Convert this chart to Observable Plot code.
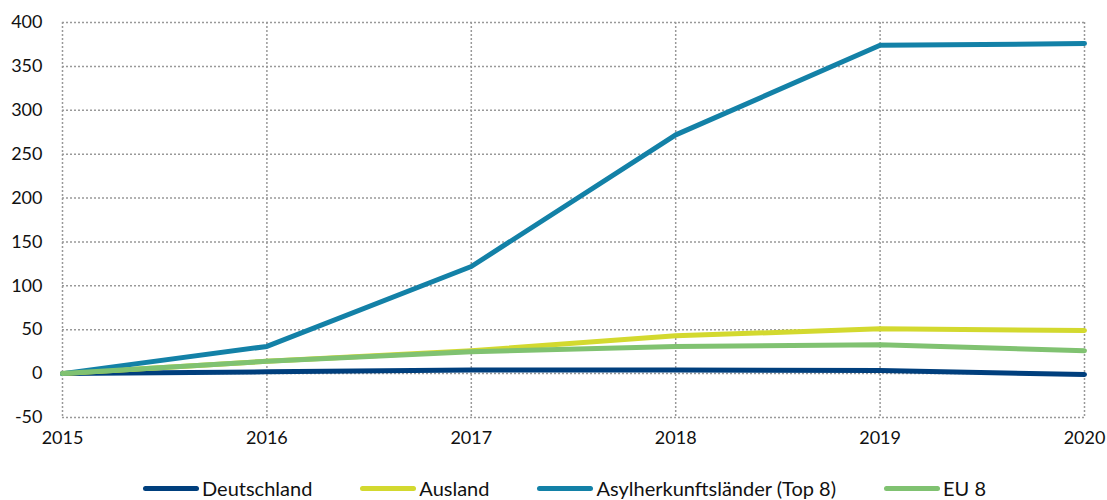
<!DOCTYPE html>
<html>
<head>
<meta charset="utf-8">
<script src="https://cdn.jsdelivr.net/npm/d3@7"></script>
<script src="https://cdn.jsdelivr.net/npm/@observablehq/plot@0.6"></script>
<style>
  html, body { margin: 0; padding: 0; background: #fff; }
  body { width: 1107px; height: 500px; overflow: hidden; font-family: Lato, "Open Sans", sans-serif; }
  #legend { display: flex; align-items: center; margin-left: 143px; margin-top: 17px; font-size: 20px; line-height: 22px; color: #111; white-space: nowrap; }
  .item { display: flex; align-items: center; margin-right: 48px; }
  .sw { width: 56px; height: 5px; border-radius: 3px; margin-right: 3px; }
</style>
</head>
<body>
<div id="chart"></div>
<div id="legend"></div>
<script>
const years = [2015, 2016, 2017, 2018, 2019, 2020];
const seriesNames = ["Deutschland", "Ausland", "Asylherkunftsländer (Top 8)", "EU 8"];
const colors = ["#003f7d", "#d3d92f", "#1381a7", "#80c271"];
const deutschland = [0, 2, 4, 4, 3.5, -1];
const ausland = [0, 14, 26, 43, 51, 49];
const asyl = [0, 31, 122, 272, 374, 376];
const eu8 = [0, 14, 25, 31, 33, 26];
const yTicks = [-50, 0, 50, 100, 150, 200, 250, 300, 350, 400];

const valuesBySeries = [deutschland, ausland, asyl, eu8];
const data = [];
seriesNames.forEach((name, i) => {
  years.forEach((yr, j) => data.push({series: name, year: yr, value: valuesBySeries[i][j]}));
});

const chart = Plot.plot({
  width: 1107,
  height: 460,
  marginLeft: 62,
  marginRight: 23,
  marginTop: 22,
  marginBottom: 43,
  style: {fontFamily: "Lato, 'Open Sans', sans-serif", fontSize: "18px", color: "#111", background: "#fff"},
  x: {domain: [2015, 2020], ticks: years, tickFormat: d => String(d), label: null},
  y: {domain: [-50, 400], ticks: yTicks, label: null},
  color: {domain: seriesNames, range: colors},
  marks: [
    Plot.gridX(years, {stroke: "#999", strokeOpacity: 1, strokeDasharray: "2,2", strokeWidth: 1.5}),
    Plot.gridY(yTicks, {stroke: "#999", strokeOpacity: 1, strokeDasharray: "2,2", strokeWidth: 1.5}),
    Plot.axisX(years, {tickSize: 0, tickPadding: 14, tickFormat: d => String(d), fontSize: 18}),
    Plot.axisY(yTicks, {tickSize: 0, tickPadding: 20, fontSize: 18, tickFormat: d => String(d)}),
    Plot.line(data, {x: "year", y: "value", z: "series", stroke: "series", strokeWidth: 5, strokeLinejoin: "round"})
  ]
});
document.getElementById("chart").appendChild(chart);

const legend = document.getElementById("legend");
seriesNames.forEach((name, i) => {
  const it = document.createElement("div");
  it.className = "item";
  const sw = document.createElement("div");
  sw.className = "sw";
  sw.style.background = colors[i];
  const t = document.createElement("span");
  t.textContent = name;
  it.appendChild(sw); it.appendChild(t);
  legend.appendChild(it);
});
</script>
</body>
</html>
